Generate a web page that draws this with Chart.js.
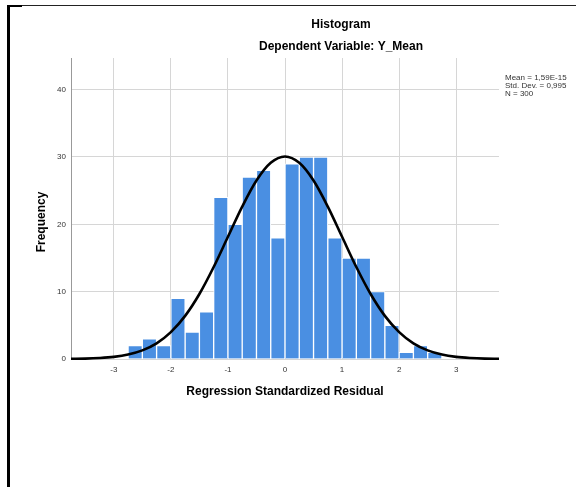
<!DOCTYPE html>
<html>
<head>
<meta charset="utf-8">
<script src="https://cdn.jsdelivr.net/npm/chart.js@4/dist/chart.umd.min.js"></script>
<style>
  body { margin: 0; background: #fff; }
  #wrap { position: relative; width: 576px; height: 487px; overflow: hidden; }
  #frameLeft { position: absolute; left: 7px; top: 5px; width: 3px; height: 482px; background: #000; }
  #frameTopThick { position: absolute; left: 7px; top: 5px; width: 15px; height: 2px; background: #000; }
  #frameTop { position: absolute; left: 7px; top: 5px; width: 569px; height: 1px; background: #222; }
  canvas { position: absolute; left: 0; top: 0; }
</style>
</head>
<body>
<div id="wrap">
  <canvas id="myChart" width="576" height="487"></canvas>
  <div id="frameTop"></div>
  <div id="frameTopThick"></div>
  <div id="frameLeft"></div>
</div>
<script>
// histogram bins (centres, width 0.25) and counts
var binCenters = [-2.625, -2.375, -2.125, -1.875, -1.625, -1.375, -1.125, -0.875, -0.625, -0.375, -0.125,
                  0.125, 0.375, 0.625, 0.875, 1.125, 1.375, 1.625, 1.875, 2.125, 2.375, 2.625];
var counts = [2, 3, 2, 9, 4, 7, 24, 20, 27, 28, 18, 29, 30, 30, 18, 15, 15, 10, 5, 1, 2, 1];

// normal curve heights read at every 0.25
var curveX = [-3.75, -3.5, -3.25, -3, -2.75, -2.5, -2.25, -2, -1.75, -1.5, -1.25, -1, -0.75, -0.5, -0.25, 0,
              0.25, 0.5, 0.75, 1, 1.25, 1.5, 1.75, 2, 2.25, 2.5, 2.75, 3, 3.25, 3.5, 3.75];
var curveY = [0.03, 0.06, 0.15, 0.32, 0.66, 1.28, 2.33, 3.99, 6.40, 9.65, 13.66, 18.15, 22.63, 26.50, 29.13, 30.07,
              29.13, 26.50, 22.63, 18.15, 13.66, 9.65, 6.40, 3.99, 2.33, 1.28, 0.66, 0.32, 0.15, 0.06, 0.03];

var xTicks = [-3, -2, -1, 0, 1, 2, 3];
var yTicks = [0, 10, 20, 30, 40];

var titleLines = ["Histogram", "Dependent Variable: Y_Mean"];
var statLines = ["Mean = 1,59E-15", "Std. Dev. = 0,995", "N = 300"];

var fontFam = "Arial, 'Liberation Sans', sans-serif";

// draws titles, y axis title and the stats box
var textPlugin = {
    id: "extraText",
    afterDraw: function(chart) {
        var ctx = chart.ctx;
        ctx.save();
        ctx.fillStyle = "#000";
        ctx.textAlign = "center";
        ctx.textBaseline = "middle";
        ctx.font = "bold 12px " + fontFam;
        ctx.fillText(titleLines[0], 341, 25);
        ctx.fillText(titleLines[1], 341, 47);

        ctx.translate(42, 222);
        ctx.rotate(-Math.PI / 2);
        ctx.fillText("Frequency", 0, 0);
        ctx.restore();

        ctx.save();
        ctx.fillStyle = "#333";
        ctx.font = "8px " + fontFam;
        ctx.textAlign = "left";
        ctx.textBaseline = "middle";
        for (var i = 0; i < statLines.length; i++) {
            ctx.fillText(statLines[i], 505, 78 + i * 8);
        }
        ctx.restore();
    }
};

var barData = binCenters.map(function(x, i) { return {x: x, y: counts[i]}; });
var lineData = curveX.map(function(x, i) { return {x: x, y: curveY[i]}; });

var config = {
    type: "bar",
    data: {
        datasets: [{
            type: "line",
            data: lineData,
            borderColor: "#000",
            borderWidth: 2.6,
            pointRadius: 0,
            cubicInterpolationMode: "monotone",
            fill: false,
            clip: 6,
            order: 0
        }, {
            type: "bar",
            data: barData,
            backgroundColor: "#4a8fe2",
            borderColor: "#ffffff",
            borderWidth: 1,
            borderSkipped: "bottom",
            barPercentage: 1,
            categoryPercentage: 1,
            order: 1
        }]
    },
    options: {
        responsive: false,
        animation: false,
        layout: { padding: { top: 58, right: 77, left: 0, bottom: 0 } },
        plugins: {
            legend: { display: false },
            tooltip: { enabled: false }
        },
        scales: {
            x: {
                type: "linear",
                min: -3.75,
                max: 3.75,
                offset: false,
                afterFit: function(scale) { scale.height = 128; },
                afterBuildTicks: function(scale) {
                    scale.ticks = xTicks.map(function(v) { return {value: v}; });
                },
                grid: { color: "#d6d6d6", drawTicks: false, offset: false },
                border: { display: false },
                ticks: { color: "#333", font: { size: 8, family: fontFam }, padding: 6 },
                title: {
                    display: true,
                    text: "Regression Standardized Residual",
                    color: "#000",
                    font: { size: 12, weight: "bold", family: fontFam },
                    padding: { top: 0, bottom: 88 }
                }
            },
            y: {
                min: 0,
                max: 44.7,
                afterFit: function(scale) { scale.width = 71; },
                afterBuildTicks: function(scale) {
                    scale.ticks = yTicks.map(function(v) { return {value: v}; });
                },
                grid: { color: "#d6d6d6", drawTicks: false },
                border: { display: true, color: "#999" },
                ticks: { color: "#333", font: { size: 8, family: fontFam }, padding: 5 }
            }
        }
    },
    plugins: [textPlugin]
};

var myChart = new Chart(document.getElementById("myChart"), config);
</script>
</body>
</html>
